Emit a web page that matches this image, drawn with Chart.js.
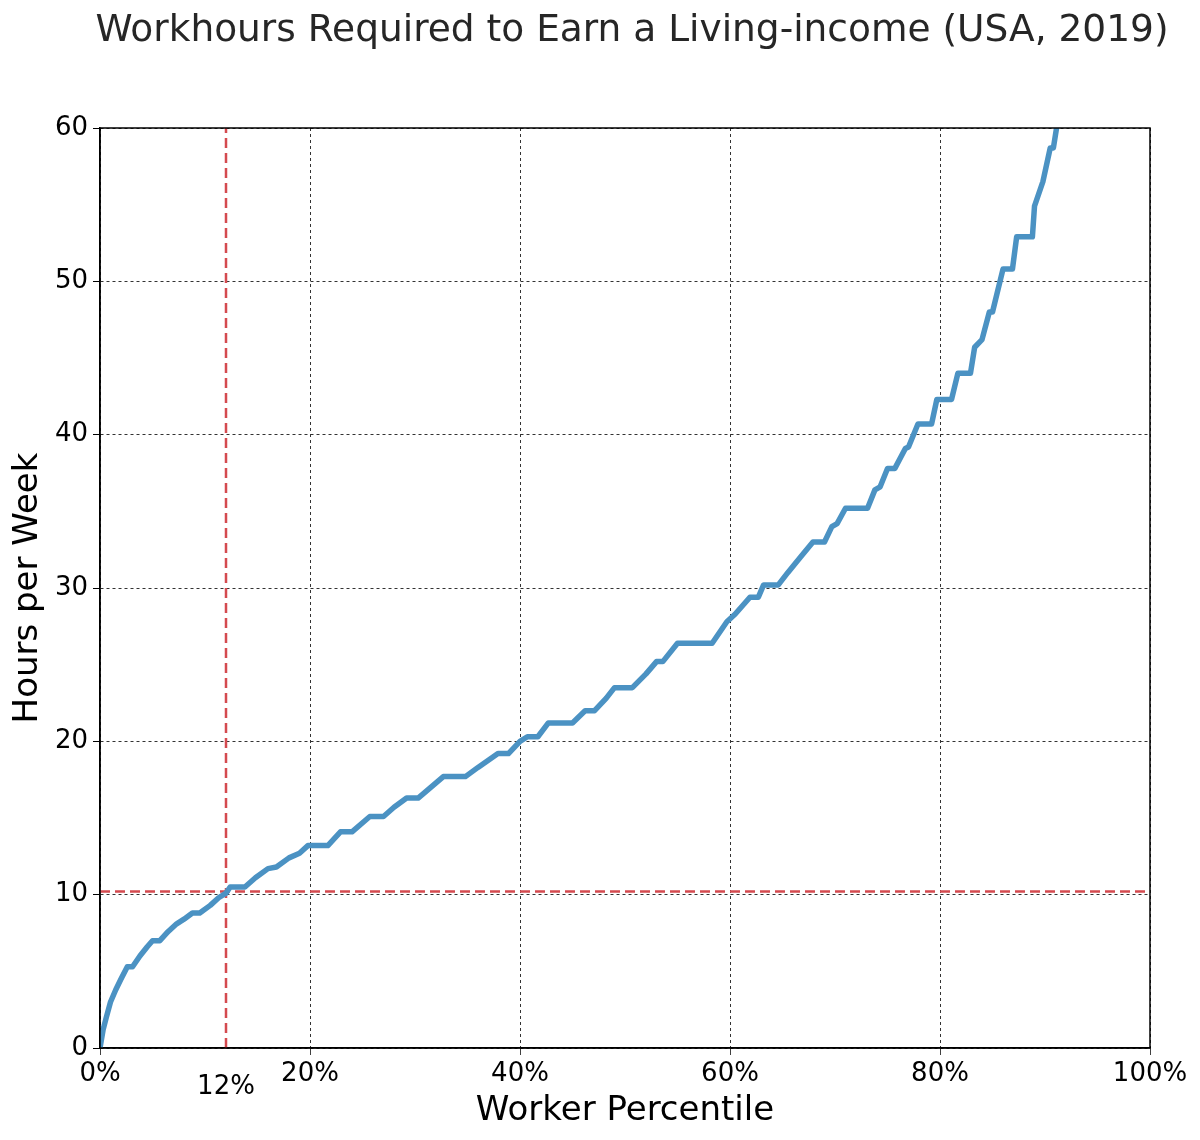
<!DOCTYPE html>
<html>
<head>
<meta charset="utf-8">
<script src="https://cdn.jsdelivr.net/npm/chart.js@4.4.1/dist/chart.umd.min.js"></script>
<style>
  html, body { margin: 0; padding: 0; background: #fff; }
  #wrap { width: 1200px; height: 1140px; }
</style>
</head>
<body>
<div id="wrap"><canvas id="chart" width="1200" height="1140"></canvas></div>
<script>
// worker percentile (%) and weekly hours
const pctX = [0, 0.3, 0.6, 1.0, 1.5, 2.0, 2.6, 3.1, 3.8, 4.5, 5.0, 5.7, 6.5, 7.3, 8.0, 8.8, 9.5, 10.5, 11.3, 12.0,
  12.4, 13.8, 14.8, 16.0, 16.8, 18.0, 19.0, 19.8, 21.7, 22.9, 24.0, 25.7, 27.0, 28.0, 29.2, 30.3, 31.5, 32.7, 34.8,
  36.0, 37.9, 38.9, 40.0, 40.7, 41.7, 42.7, 45.0, 46.2, 47.1, 48.2, 49.0, 50.7, 52.0, 53.0, 53.6, 55.0, 58.3, 59.7,
  60.5, 61.9, 62.7, 63.2, 64.6, 65.5, 66.7, 67.9, 69.0, 69.7, 70.2, 71.0, 73.1, 73.8, 74.3, 75.0, 75.7, 76.7, 77.0,
  77.9, 79.2, 79.7, 81.1, 81.7, 82.9, 83.3, 84.0, 84.7, 85.0, 86.0, 86.9, 87.3, 88.8, 89.0, 89.8, 90.5, 90.8, 91.1, 91.6];
const hoursY = [0, 1.2, 2.0, 3.0, 3.8, 4.5, 5.3, 5.3, 6.0, 6.6, 7.0, 7.0, 7.6, 8.1, 8.4, 8.8, 8.8, 9.3, 9.8, 10.1,
  10.5, 10.5, 11.1, 11.7, 11.8, 12.4, 12.7, 13.2, 13.2, 14.1, 14.1, 15.1, 15.1, 15.7, 16.3, 16.3, 17.0, 17.7, 17.7,
  18.3, 19.2, 19.2, 20.0, 20.3, 20.3, 21.2, 21.2, 22.0, 22.0, 22.8, 23.5, 23.5, 24.4, 25.2, 25.2, 26.4, 26.4, 27.8,
  28.3, 29.4, 29.4, 30.2, 30.2, 31.0, 32.0, 33.0, 33.0, 34.0, 34.2, 35.2, 35.2, 36.4, 36.6, 37.8, 37.8, 39.1, 39.2,
  40.7, 40.7, 42.3, 42.3, 44.0, 44.0, 45.7, 46.2, 48.0, 48.0, 50.8, 50.8, 52.9, 52.9, 54.9, 56.5, 58.7, 58.7, 60.0, 62.0];

const cutPct = 12;
const cutHours = 10.2;
const xTicks = [0, 20, 40, 60, 80, 100];
const yTicks = [0, 10, 20, 30, 40, 50, 60];

const FONT = 'DejaVu Sans';

let curve = [];
for (let i = 0; i < pctX.length; i++) {
  curve.push({ x: pctX[i], y: hoursY[i] });
}

// frame, title and the extra 12% label
const extras = {
  id: 'extras',
  afterDraw(chart) {
    let ctx = chart.ctx;
    let a = chart.chartArea;
    ctx.save();
    ctx.setLineDash([]);
    ctx.strokeStyle = '#000';
    ctx.lineWidth = 1.5;
    ctx.strokeRect(a.left, a.top, a.right - a.left, a.bottom - a.top);

    ctx.fillStyle = '#262626';
    ctx.textAlign = 'center';
    ctx.textBaseline = 'middle';
    ctx.font = '37.5px "' + FONT + '"';
    ctx.fillText('Workhours Required to Earn a Living-income (USA, 2019)', (a.left + a.right) / 2 + 7, 31);

    ctx.fillStyle = '#000';
    ctx.font = '26px "' + FONT + '"';
    ctx.fillText(cutPct + '%', chart.scales.x.getPixelForValue(cutPct), 1087);
    ctx.restore();
  }
};

new Chart(document.getElementById('chart'), {
  type: 'line',
  data: {
    datasets: [
      {
        data: curve,
        borderColor: '#4b92c3',
        borderWidth: 5.5,
        pointRadius: 0,
        tension: 0,
        borderJoinStyle: 'round'
      },
      {
        data: [{ x: cutPct, y: 0 }, { x: cutPct, y: 60 }],
        borderColor: '#d44a4f',
        borderWidth: 2.5,
        borderDash: [10, 5],
        pointRadius: 0
      },
      {
        data: [{ x: 0, y: cutHours }, { x: 100, y: cutHours }],
        borderColor: '#d44a4f',
        borderWidth: 2.5,
        borderDash: [10, 5],
        pointRadius: 0
      }
    ]
  },
  options: {
    responsive: false,
    animation: false,
    layout: { padding: { top: 128, right: 50, left: 0, bottom: 0 } },
    plugins: {
      legend: { display: false },
      tooltip: { enabled: false }
    },
    scales: {
      x: {
        type: 'linear',
        min: 0,
        max: 100,
        afterBuildTicks: function(scale) {
          scale.ticks = xTicks.map(v => ({ value: v }));
        },
        afterFit: function(scale) { scale.height = 92; },
        grid: {
          color: '#333',
          tickLength: 7,
          tickColor: '#000',
          tickBorderDash: [1, 0]
        },
        border: { color: '#000', width: 1.5, dash: [3, 3] },
        ticks: {
          color: '#000',
          font: { family: FONT, size: 26 },
          padding: 4,
          maxRotation: 0,
          callback: function(value) { return value + '%'; }
        },
        title: {
          display: true,
          text: 'Worker Percentile',
          color: '#000',
          font: { family: FONT, size: 34 },
          padding: { top: 0, bottom: 8 }
        }
      },
      y: {
        min: 0,
        max: 60,
        afterBuildTicks: function(scale) {
          scale.ticks = yTicks.map(v => ({ value: v }));
        },
        afterFit: function(scale) { scale.width = 100; },
        grid: {
          color: '#333',
          tickLength: 7,
          tickColor: '#000',
          tickBorderDash: [1, 0]
        },
        border: { color: '#000', width: 1.5, dash: [3, 3] },
        ticks: {
          color: '#000',
          font: { family: FONT, size: 26 },
          padding: 5
        },
        title: {
          display: true,
          text: 'Hours per Week',
          color: '#000',
          font: { family: FONT, size: 34 },
          padding: { top: 8, bottom: 0 }
        }
      }
    }
  },
  plugins: [extras]
});
</script>
</body>
</html>
